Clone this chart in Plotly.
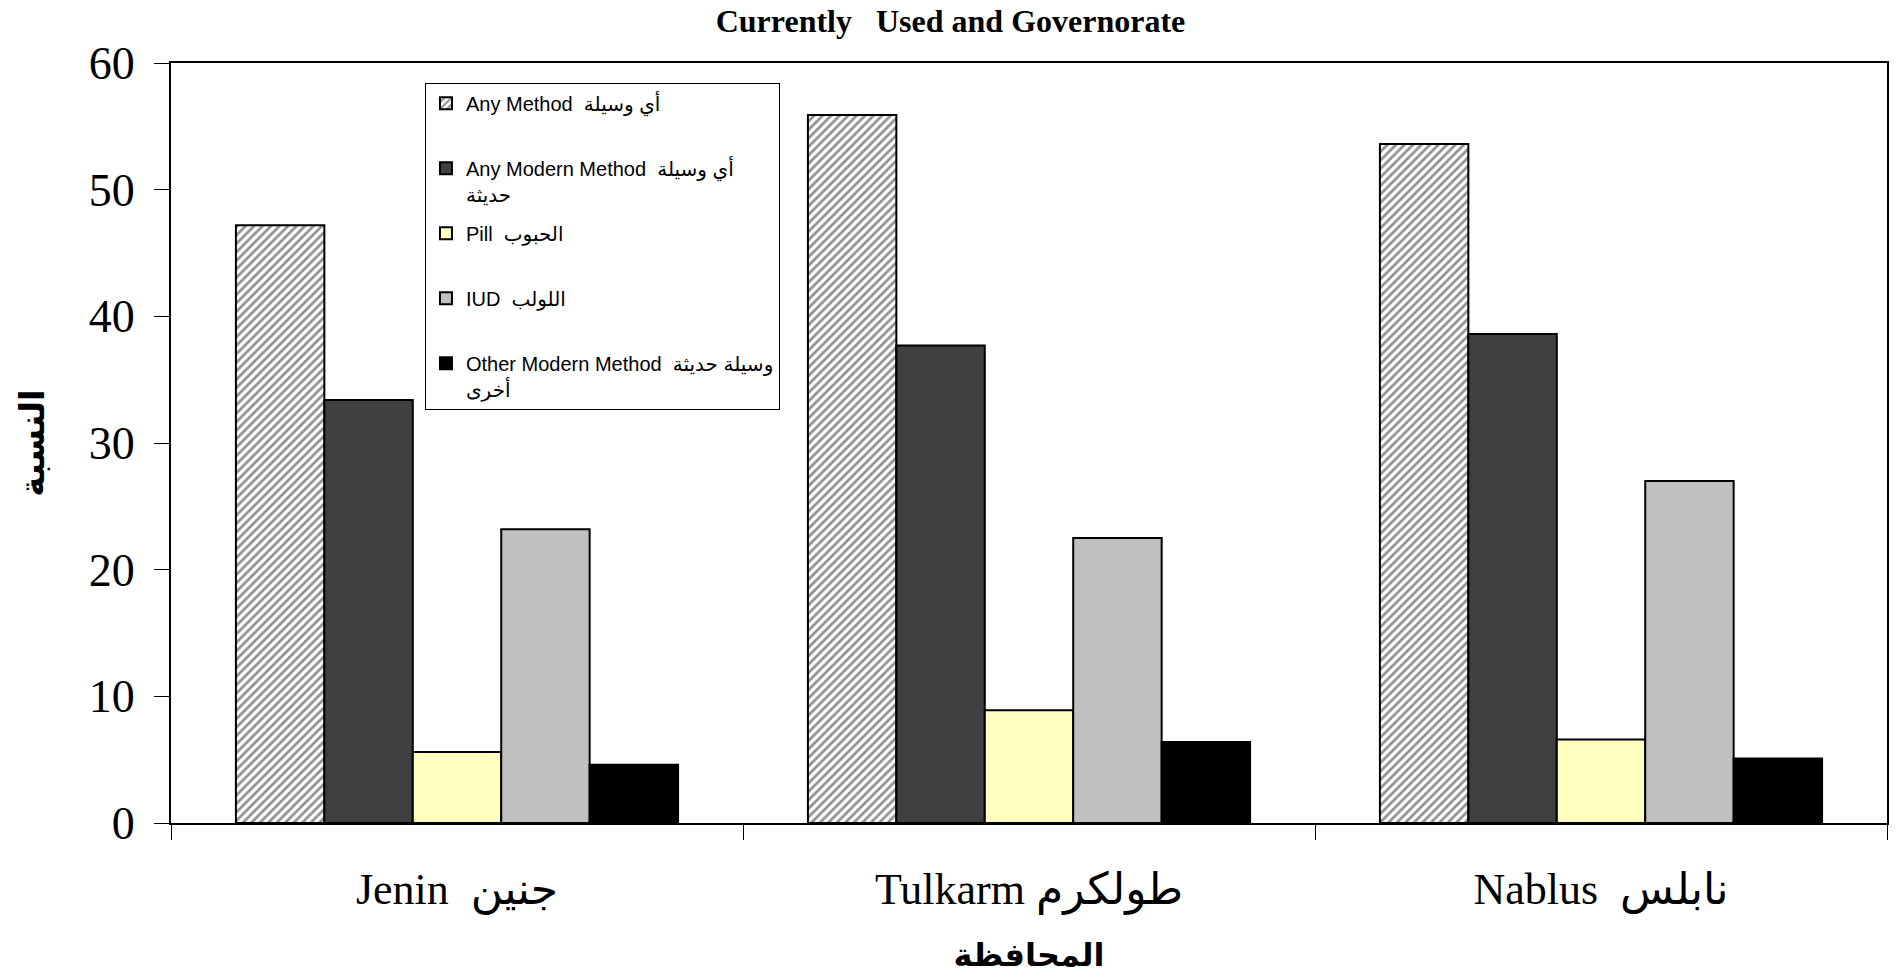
import plotly.graph_objects as go

categories = ["Jenin  جنين", "Tulkarm طولكرم", "Nablus  نابلس"]
series_names = [
    "Any Method  أي وسيلة<br>\u00a0",
    "Any Modern Method  أي وسيلة<br>حديثة",
    "Pill  الحبوب<br>\u00a0",
    "IUD  اللولب<br>\u00a0",
    "Other Modern Method  وسيلة حديثة<br>أخرى",
]
any_method = [47.2, 55.9, 53.6]
any_modern = [33.4, 37.7, 38.6]
pill = [5.6, 8.9, 6.6]
iud = [23.2, 22.5, 27.0]
other_modern = [4.6, 6.4, 5.1]
values = [any_method, any_modern, pill, iud, other_modern]

colors = ["#ffffff", "#404040", "#ffffc0", "#c0c0c0", "#000000"]
y_ticks = [0, 10, 20, 30, 40, 50, 60]

fig = go.Figure()
for i, (name, vals) in enumerate(zip(series_names, values)):
    marker = dict(color=colors[i], line=dict(color="black", width=2))
    if i == 0:
        marker["pattern"] = dict(shape="/", fgcolor="#222222", bgcolor="white",
                                 size=6, solidity=0.45, fillmode="overlay")
    fig.add_trace(go.Bar(x=categories, y=vals, name=name, marker=marker,
                         legendgroup="g%d" % i))

serif = "Liberation Serif, Times New Roman, DejaVu Sans"
fig.update_layout(
    width=1901, height=980,
    margin=dict(l=171, r=14, t=63, b=157),
    paper_bgcolor="white", plot_bgcolor="white",
    barmode="group", bargap=0.227, bargroupgap=0,
    title=dict(text="<b>Currently   Used and Governorate</b>", x=0.5, xanchor="center",
               y=0.979, yanchor="middle", yref="container",
               font=dict(family=serif, size=32, color="black")),
    legend=dict(x=0.148, y=0.974, xanchor="left", yanchor="top",
                bgcolor="white", bordercolor="black", borderwidth=1,
                font=dict(family="Liberation Sans, Arial, DejaVu Sans", size=20, color="black"),
                tracegroupgap=10, valign="top", traceorder="grouped"),
    showlegend=True,
)
fig.update_xaxes(
    showline=True, linecolor="black", linewidth=2, mirror=True,
    ticks="outside", tickson="boundaries", ticklen=15, tickcolor="black", tickwidth=1,
    tickfont=dict(family=serif, size=44, color="black"),
    ticklabelstandoff=26,
    title=dict(text="<b>المحافظة</b>", standoff=30,
               font=dict(family="DejaVu Sans", size=32, color="black")),
    showgrid=False,
)
fig.update_yaxes(
    range=[0, 60], tickvals=y_ticks, showline=True, linecolor="black", linewidth=2, mirror=True,
    ticks="outside", ticklen=15, tickcolor="black", tickwidth=1,
    tickfont=dict(family=serif, size=46, color="black"),
    ticklabelstandoff=10,
    title=dict(text="<b>النسبة</b>", standoff=34,
               font=dict(family="DejaVu Sans", size=34, color="black")),
    showgrid=False, zeroline=False,
)

fig.write_html("out.html", config={"displayModeBar": False},
               post_script="document.body.style.margin='0';")
